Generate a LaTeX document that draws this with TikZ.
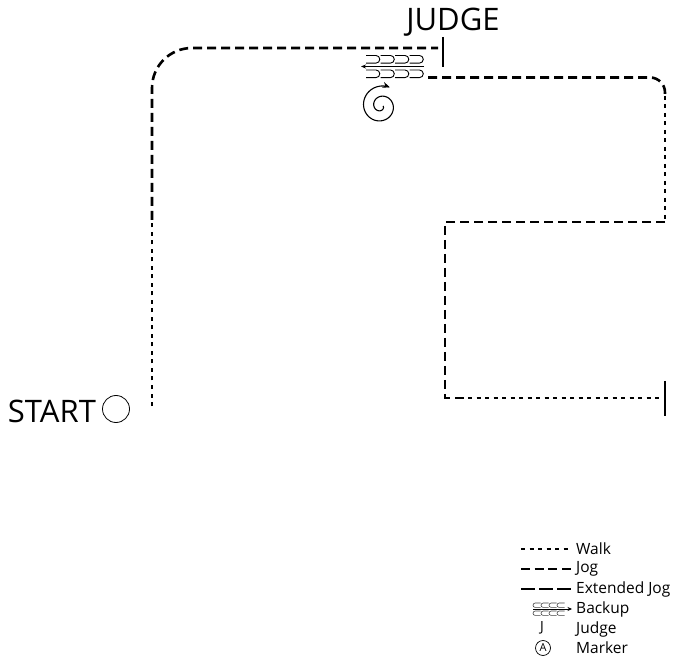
\documentclass[tikz,border=0pt]{standalone}
\usepackage{fontspec}
\setmainfont{Open Sans}
\usetikzlibrary{arrows.meta}
\begin{document}
\begin{tikzpicture}[x=1pt,y=-1pt,
  walk/.style={line width=2.6pt,dash pattern=on 4pt off 4.5pt},
  jog/.style={line width=2.6pt,dash pattern=on 9pt off 5pt},
  extjog/.style={line width=2.6pt,dash pattern=on 14pt off 6pt},
  tick/.style={line width=1.5pt},
  thin/.style={line width=0.9pt},
  bigtext/.style={font=\fontsize{31}{31}\selectfont,inner sep=0pt},
  legtext/.style={font=\fontsize{15.5}{15.5}\selectfont,inner sep=0pt,anchor=west},
]
\useasboundingbox (0,0) rectangle (683,660);

% start marker and label
\node[draw,circle,minimum size=27pt,inner sep=0pt,line width=0.8pt] (startc) at (116,409) {};
\node[bigtext,anchor=east] (startl) at ([xshift=-6pt,yshift=-2pt]startc.west) {START};

% judge label
\node[bigtext] (judgel) at (453,22) {JUDGE};

% route points
\coordinate (a0) at (152,406);
\coordinate (a1) at (152,220);
\coordinate (a2) at (438,48);
\coordinate (jt1) at (443,37);
\coordinate (jt2) at (443,67);
\coordinate (b0) at (428,77.5);
\coordinate (b1) at (665,96);
\coordinate (b2) at (665,222);
\coordinate (b3) at (445,222);
\coordinate (b4) at (445,398);
\coordinate (b5) at (468,398);
\coordinate (b6) at (663,398);
\coordinate (jb1) at (665,381);
\coordinate (jb2) at (665,416);

% walk up, jog round to the judge
\draw[walk] (a0) -- (a1);
\draw[jog,rounded corners=40pt] (a1) |- (a2);
\draw[tick] (jt1) -- (jt2);

% backup in front of the judge
\foreach \x in {366,380.5,395,409.5} {
  \draw[thin] (\x,55.5) -- (\x+10,55.5) arc[start angle=-90,end angle=90,radius=3.8] -- (\x,63.1);
  \draw[thin] (\x,70) -- (\x+10,70) arc[start angle=-90,end angle=90,radius=3.8] -- (\x,77.6);
}
\coordinate (bk1) at (424,66.5);
\coordinate (bk2) at (361,66.5);
\draw[thin,-{Stealth[length=5pt,width=4pt]}] (bk1) -- (bk2);

% turn on the spot
\draw[line width=1.1pt,-{Stealth[length=7pt,width=6pt]}]
  plot[domain=0:655,samples=240,smooth,variable=\t]
  ({381+(2+0.0285*\t)*cos(\t)},{106+(2+0.0285*\t)*sin(\t)});

% jog away, walk down, jog, then walk to the judge
\draw[jog,rounded corners=15pt] (b0) -| (b1);
\draw[walk] (b1) -- (b2);
\draw[jog] (b2) -- (b3) -- (b4) -- (b5);
\draw[walk] (b5) -- (b6);
\draw[tick] (jb1) -- (jb2);

% legend
\coordinate (lw1) at (521,549); \coordinate (lw2) at (571,549);
\coordinate (lj1) at (521,569); \coordinate (lj2) at (571,569);
\coordinate (le1) at (521,589); \coordinate (le2) at (571,589);
\draw[walk,line width=2pt] (lw1) -- (lw2);
\draw[jog,line width=2pt,dash pattern=on 9pt off 4.7pt] (lj1) -- (lj2);
\draw[extjog,line width=2pt,dash pattern=on 14pt off 4pt] (le1) -- (le2);
\node[legtext] (lwt) at (576,549) {Walk};
\node[legtext] (ljt) at (576,569) {Jog};
\node[legtext] (let) at (576,589) {Extended Jog};

\foreach \x in {533,541,549,557} {
  \draw[line width=0.6pt,black!75] (\x+7.5,603) -- (\x+2.2,603) arc[start angle=-90,end angle=-270,radius=2.2] -- (\x+7.5,607.4);
  \draw[line width=0.6pt,black!75] (\x+7.5,611) -- (\x+2.2,611) arc[start angle=-90,end angle=-270,radius=2.2] -- (\x+7.5,615.4);
}
\coordinate (lb1) at (533,609); \coordinate (lb2) at (572,609);
\draw[line width=0.6pt,-{Stealth[length=4.5pt,width=4pt]}] (lb1) -- (lb2);
\node[legtext] (lbt) at (576,609) {Backup};

\node[font=\fontsize{14}{14}\selectfont,inner sep=0pt] (lj) at (542,628) {J};
\node[legtext] (ljut) at (576,629) {Judge};

\node[draw,circle,minimum size=15pt,inner sep=0pt,line width=0.7pt,
      font=\fontsize{11}{11}\selectfont] (lm) at (543,648) {A};
\node[legtext] (lmt) at (576,648) {Marker};
\end{tikzpicture}
\end{document}
